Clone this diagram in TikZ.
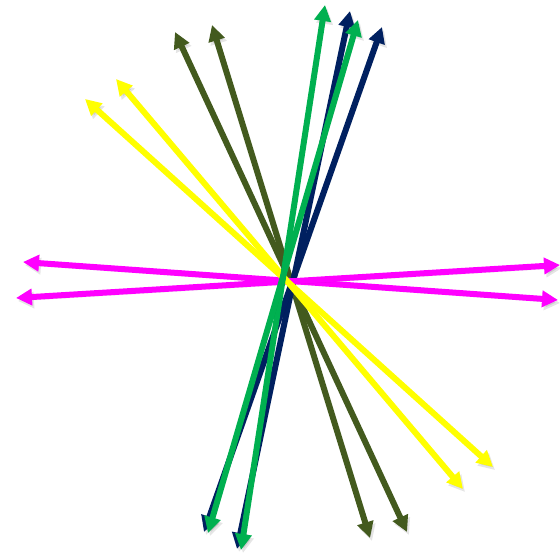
\documentclass[tikz,border=0pt]{standalone}
\usetikzlibrary{arrows.meta}

\definecolor{mag}{HTML}{FF00FF}
\definecolor{yel}{HTML}{FFFF00}
\definecolor{oliv}{HTML}{435A1E}
\definecolor{grn}{HTML}{00B050}
\definecolor{navy}{HTML}{002060}

\begin{document}
\begin{tikzpicture}[x=1pt, y=-1pt,
        dbl/.style={{Triangle[length=16pt,width=16pt]}-{Triangle[length=16pt,width=16pt]}, line width=6pt,
            preaction={draw=black, opacity=0.1, transform canvas={shift={(2pt,-3pt)}}}}
    ]
        \useasboundingbox (0,0) rectangle (560,553);

        % end points
        \coordinate (o1n) at (175,32);
        \coordinate (o1s) at (407,532);
        \coordinate (o2n) at (212,25);
        \coordinate (o2s) at (370,538);
        \coordinate (n1n) at (350,11);
        \coordinate (n1s) at (237,549);
        \coordinate (n2n) at (382,27);
        \coordinate (n2s) at (204,532);
        \coordinate (m1w) at (23,262);
        \coordinate (m1e) at (558,300);
        \coordinate (m2w) at (16,298);
        \coordinate (m2e) at (560,265);
        \coordinate (y1n) at (85,99);
        \coordinate (y1s) at (493,467);
        \coordinate (y2n) at (116,79);
        \coordinate (y2s) at (463,489);
        \coordinate (g1n) at (325,5);
        \coordinate (g1s) at (241,550);
        \coordinate (g2n) at (358,20);
        \coordinate (g2s) at (208,533);

        \draw[dbl, oliv] (o1n) -- (o1s);
        \draw[dbl, oliv] (o2n) -- (o2s);
        \draw[dbl, navy] (n1n) -- (n1s);
        \draw[dbl, navy] (n2n) -- (n2s);
        \draw[dbl, mag] (m1w) -- (m1e);
        \draw[dbl, mag] (m2w) -- (m2e);
        \draw[dbl, yel] (y1n) -- (y1s);
        \draw[dbl, yel] (y2n) -- (y2s);
        \draw[dbl, grn] (g1n) -- (g1s);
        \draw[dbl, grn] (g2n) -- (g2s);
    \end{tikzpicture}
\end{document}
